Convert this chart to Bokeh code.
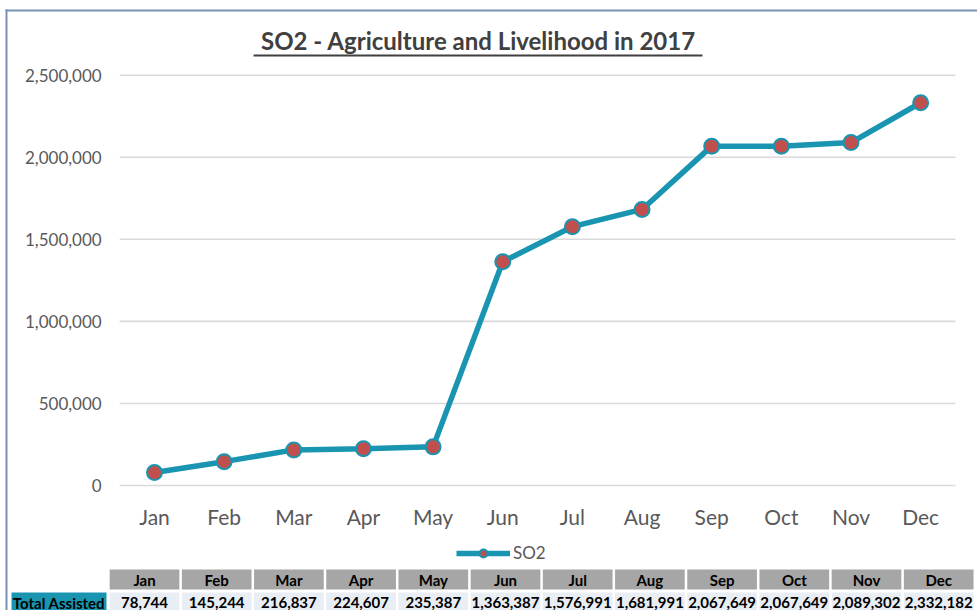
from bokeh.plotting import figure
from bokeh.models import Range1d, Legend, LegendItem, BoxAnnotation, ColumnDataSource
from bokeh.embed import file_html
from bokeh.resources import INLINE
from bokeh.core.properties import value

# ---- data ----
months = ["Jan", "Feb", "Mar", "Apr", "May", "Jun", "Jul", "Aug", "Sep", "Oct", "Nov", "Dec"]
so2_values = [78744, 145244, 216837, 224607, 235387, 1363387, 1576991, 1681991,
              2067649, 2067649, 2089302, 2332182]
y_ticks = [0, 500000, 1000000, 1500000, 2000000, 2500000]
title_text = "SO2 - Agriculture and Livelihood in 2017"
series_name = "SO2"
row_label = "Total Assisted"

# ---- style ----
FONT = "Lato"
TEAL = "#1995b1"
RED = "#c0504d"
GRID = "#d9d9d9"
LABEL = "#595959"
TITLE_C = "#404040"
BORDER = "#7892b6"
HEAD_BG = "#a6a6a6"
CELL_BG = "#e9edf4"

W, H = 977, 610
# chart layout (pixels): category pitch, first category centre, zero line, top line
PITCH, X0PX = 69.65, 154.0
ZERO_PY, TOP_PY = 485.0, 74.7
UPP = y_ticks[-1] / (ZERO_PY - TOP_PY)          # data units per pixel


def px2x(px):
    return (px - X0PX) / PITCH


def py2y(py):
    return (ZERO_PY - py) * UPP


p = figure(width=W, height=H, x_range=Range1d(px2x(0), px2x(W)),
           y_range=Range1d(py2y(H), py2y(0)), output_backend="svg", toolbar_location=None,
           min_border_left=0, min_border_right=0, min_border_top=0, min_border_bottom=0)
p.axis.visible = False
p.grid.visible = False
p.outline_line_color = None
p.background_fill_color = "white"
p.border_fill_color = "white"

n = len(months)
idx = list(range(n))
left_edge, right_edge = -0.5, n - 0.5

# gridlines & y tick labels
gsrc = ColumnDataSource(dict(y=y_ticks, lab=[f"{v:,}" for v in y_ticks],
                             x0=[left_edge] * len(y_ticks), x1=[right_edge] * len(y_ticks)))
p.segment("x0", "y", "x1", "y", source=gsrc, line_color=GRID, line_width=1.6)
p.text("x0", "y", text="lab", source=gsrc, x_offset=-18, text_align="right",
       text_baseline="middle", text_font=value(FONT), text_font_size="17px", text_color=LABEL)

# month labels
msrc = ColumnDataSource(dict(x=idx, y=[py2y(516)] * n, m=months))
p.text("x", "y", text="m", source=msrc, text_align="center", text_baseline="middle",
       text_font=value(FONT), text_font_size="21px", text_color=LABEL)

# series
src = ColumnDataSource(dict(x=idx, v=so2_values))
lr = p.line("x", "v", source=src, line_color=TEAL, line_width=5.5)
sr = p.scatter("x", "v", source=src, size=15, fill_color=RED, line_color=TEAL, line_width=2)

# title + underline
p.text([px2x(478)], [py2y(40)], text=[title_text], text_align="center", text_baseline="middle",
       text_font=value(FONT), text_font_size="24px", text_font_style="bold", text_color=TITLE_C)
p.segment([px2x(253)], [py2y(55)], [px2x(702)], [py2y(55)], line_color=TITLE_C, line_width=2)

# legend
legend = Legend(items=[LegendItem(label=series_name, renderers=[lr, sr])],
                orientation="horizontal", location=(456, 47), glyph_width=54, glyph_height=20,
                label_text_font=FONT, label_text_font_size="17px", label_text_color=LABEL,
                label_standoff=3, border_line_color=None, background_fill_alpha=0,
                padding=2, margin=0)
p.add_layout(legend, "center")

# ---- table (own x/y scales) ----
TPITCH, TX0 = 72.2, 144.0
p.extra_x_ranges["tbl"] = Range1d(-TX0 / TPITCH, (W - TX0) / TPITCH)
RPITCH, R0 = 23.0, 602.0     # row pitch, data-row centre
p.extra_y_ranges["tbl"] = Range1d(-(H - R0) / RPITCH, R0 / RPITCH)

tsrc = ColumnDataSource(dict(x=idx, m=months, v=[f"{v:,}" for v in so2_values],
                             hy=[1] * n, dy=[0] * n))
kw = dict(source=tsrc, x_range_name="tbl", y_range_name="tbl")
p.rect("x", "hy", width=0.965, height=0.88, fill_color=HEAD_BG, line_color=None, **kw)
p.rect("x", "dy", width=0.965, height=0.88, fill_color=CELL_BG, line_color=None, **kw)
tkw = dict(text_font=value(FONT), text_font_size="15px", text_font_style="bold",
           text_align="center", text_baseline="middle", text_color="black")
p.text("x", "hy", text="m", **kw, **tkw)
p.text("x", "dy", text="v", **kw, **tkw)

lx0, lx1 = (11 - TX0) / TPITCH, (106 - TX0) / TPITCH
lsrc = ColumnDataSource(dict(x=[(lx0 + lx1) / 2], y=[0], s=[row_label]))
p.rect("x", "y", width=lx1 - lx0, height=0.88, source=lsrc, fill_color=TEAL, line_color=None,
       x_range_name="tbl", y_range_name="tbl")
p.text("x", "y", text="s", source=lsrc, x_range_name="tbl", y_range_name="tbl", **tkw)

# chart frame border (top + left)
p.add_layout(BoxAnnotation(left=5, right=W, top=9, bottom=11,
                           left_units="canvas", right_units="canvas",
                           top_units="canvas", bottom_units="canvas",
                           fill_color=BORDER, fill_alpha=1, line_color=None))
p.add_layout(BoxAnnotation(left=5, right=7, top=9, bottom=H,
                           left_units="canvas", right_units="canvas",
                           top_units="canvas", bottom_units="canvas",
                           fill_color=BORDER, fill_alpha=1, line_color=None))

open("out.html", "w").write(file_html(p, INLINE))
